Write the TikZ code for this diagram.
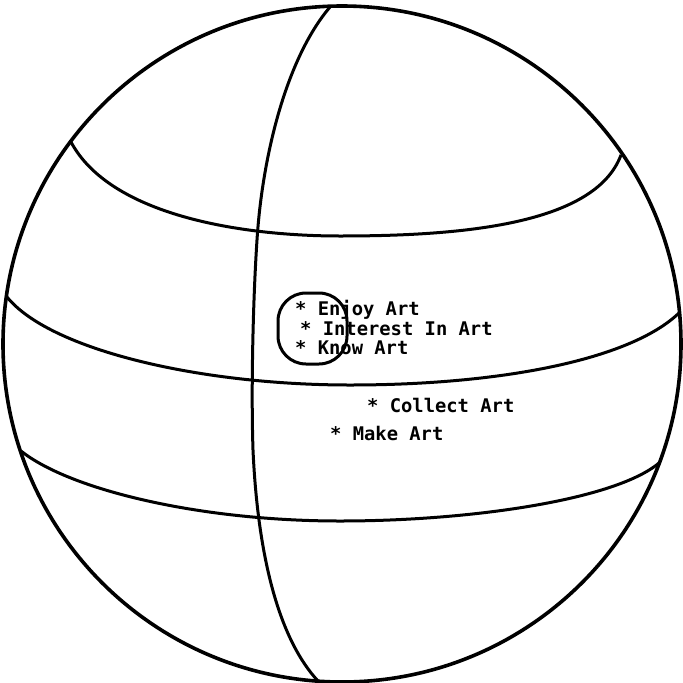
\documentclass[tikz,border=0pt]{standalone}
\usepackage{fontspec}
\newfontfamily\plotfont{DejaVu Sans Mono}
\begin{document}
\begin{tikzpicture}[x=1pt,y=-1pt,
  outline/.style={line width=3.6pt},
  gridline/.style={line width=3pt},
  label/.style={anchor=base west,inner sep=0pt,font=\plotfont\bfseries\fontsize{18.8}{20}\selectfont}]
\useasboundingbox (0,0) rectangle (683,683);
\begin{scope}
\clip (0,0) rectangle (683,683);
\draw[outline] (342,344) ellipse [x radius=339,y radius=338];
\end{scope}
% latitudes
\draw[gridline] (71,142) .. controls (110,215) and (240,236) .. (340,236)
                         .. controls (460,236) and (595,225) .. (621,155);
\draw[gridline] (7,297) .. controls (50,350) and (200,385) .. (350,385)
                        .. controls (500,385) and (630,360) .. (679,313);
\draw[gridline] (21,451) .. controls (70,490) and (200,521) .. (340,521)
                         .. controls (470,521) and (615,500) .. (659,463);
% meridian
\draw[gridline] (330,7) .. controls (285,60) and (262,160) .. (257,240)
                        .. controls (253,300) and (251,390) .. (253,450)
                        .. controls (258,560) and (280,640) .. (318,681);
% loop around group
\draw[gridline,rounded corners=28pt] (278,293) rectangle (347,364);
\node[label] (enjoy) at (295,315) {* Enjoy Art};
\node[label] (interest) at (300,335) {* Interest In Art};
\node[label] (know) at (295,354) {* Know Art};
\node[label] (collect) at (367,412) {* Collect Art};
\node[label] (make) at (330,440) {* Make Art};
\end{tikzpicture}
\end{document}
